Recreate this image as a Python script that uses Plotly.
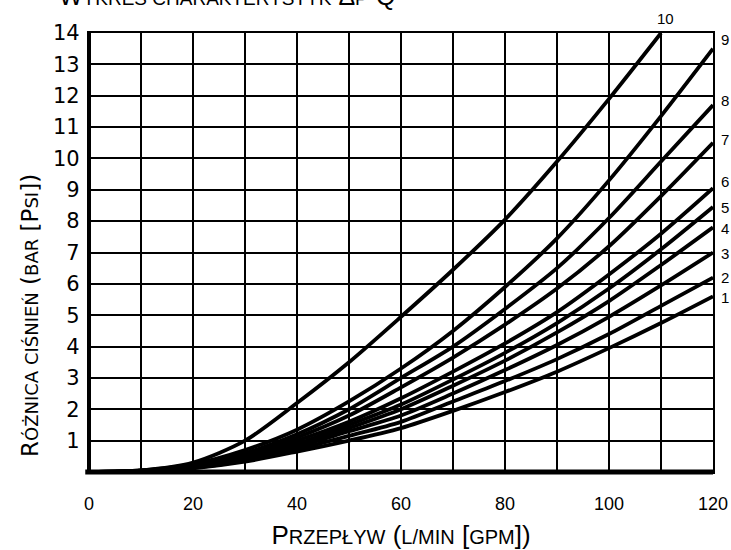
import plotly.graph_objects as go

flow = [0, 10, 20, 30, 40, 50, 60, 70, 80, 90, 100, 110, 120]

curve_1 = [0, 0.02, 0.12, 0.33, 0.65, 1.0, 1.4, 1.95, 2.55, 3.2, 3.95, 4.75, 5.6]
curve_2 = [0, 0.02, 0.13, 0.36, 0.72, 1.15, 1.6, 2.25, 2.9, 3.6, 4.4, 5.3, 6.2]
curve_3 = [0, 0.03, 0.15, 0.4, 0.8, 1.3, 1.8, 2.5, 3.25, 4.05, 4.95, 5.95, 7.0]
curve_4 = [0, 0.03, 0.16, 0.42, 0.85, 1.4, 2.0, 2.75, 3.55, 4.45, 5.45, 6.6, 7.8]
curve_5 = [0, 0.03, 0.17, 0.45, 0.9, 1.5, 2.15, 2.95, 3.8, 4.75, 5.85, 7.1, 8.45]
curve_6 = [0, 0.03, 0.18, 0.5, 1.0, 1.6, 2.35, 3.2, 4.1, 5.1, 6.3, 7.6, 9.05]
curve_7 = [0, 0.04, 0.2, 0.55, 1.1, 1.8, 2.7, 3.65, 4.7, 5.85, 7.2, 8.8, 10.5]
curve_8 = [0, 0.04, 0.22, 0.6, 1.2, 2.0, 3.0, 4.0, 5.2, 6.5, 8.1, 9.9, 11.7]
curve_9 = [0, 0.05, 0.25, 0.7, 1.35, 2.25, 3.3, 4.5, 5.9, 7.45, 9.3, 11.35, 13.5]
curve_10 = [0, 0.05, 0.3, 1.0, 2.2, 3.5, 4.95, 6.45, 8.05, 9.9, 11.9, 14.0]

curves = [curve_1, curve_2, curve_3, curve_4, curve_5,
          curve_6, curve_7, curve_8, curve_9, curve_10]
curve_names = ["1", "2", "3", "4", "5", "6", "7", "8", "9", "10"]
label_y = [5.58, 6.19, 6.98, 7.75, 8.45, 9.28, 10.59, 11.86, 13.78, 14.0]

x_ticks = [0, 10, 20, 30, 40, 50, 60, 70, 80, 90, 100, 110, 120]
x_ticktext = ["0", "", "20", "", "40", "", "60", "", "80", "", "100", "", "120"]
y_ticks = [1, 2, 3, 4, 5, 6, 7, 8, 9, 10, 11, 12, 13, 14]

NARROW = "Liberation Sans Narrow, Liberation Sans"
WIDE = "DejaVu Sans, Liberation Sans"


def sc(big, small, size):
    return big + '<span style="font-size:%dpx">%s</span>' % (size, small)


def sm(text, size):
    return '<span style="font-size:%dpx">%s</span>' % (size, text)


XS = 20
x_title = sc("P", "RZEPŁYW", XS) + " (" + sm("L/MIN", XS) + " [" + sm("GPM", XS) + "])"
YS = 18
y_title = sc("R", "ÓŻNICA CIŚNIEŃ", YS) + " (" + sm("BAR", YS) + " [" + sc("P", "SI", YS) + "])"
TS = 19
top_title = sc("W", "YKRES CHARAKTERYSTYK", TS) + " " + sc("Δ", "P", TS) + "-Q"

fig = go.Figure()
for name, ys in zip(curve_names, curves):
    fig.add_trace(go.Scatter(
        x=flow[:len(ys)], y=ys, mode="lines", name=name,
        line=dict(color="black", width=3.8, shape="spline", smoothing=0.8),
        showlegend=False, hoverinfo="skip", cliponaxis=True))

for name, ys, ly in zip(curve_names, curves, label_y):
    xe = flow[len(ys) - 1]
    is_top = name == "10"
    fig.add_annotation(
        x=xe, y=ly, xref="x", yref="y", text=name, showarrow=False,
        xanchor="center" if is_top else "left",
        xshift=4 if is_top else 6,
        yshift=15 if is_top else 0,
        font=dict(family="Liberation Sans, Arial", size=15, color="black"))

# chart title (partly cut by the top edge, as in the source)
fig.add_annotation(
    x=0.5, y=1.0, xref="paper", yref="paper", text=top_title, showarrow=False,
    yshift=37, xshift=-174, yanchor="middle",
    font=dict(family=NARROW, size=25, color="black"))

# y-axis title
fig.add_annotation(
    x=-0.0946, y=0.3576, xref="paper", yref="paper", text=y_title, showarrow=False,
    textangle=-90, xanchor="center", yanchor="middle",
    font=dict(family=WIDE, size=23, color="black"))

fig.update_layout(
    width=731, height=550,
    margin=dict(l=89, r=18, t=33, b=78),
    paper_bgcolor="white", plot_bgcolor="white",
    xaxis=dict(
        range=[0, 120], tickvals=x_ticks, ticktext=x_ticktext, automargin=False,
        showgrid=True, gridcolor="black", gridwidth=2.2,
        showline=True, linecolor="black", linewidth=2.2, mirror=True,
        zeroline=False, ticks="", ticklabelstandoff=14,
        tickfont=dict(family="Liberation Sans, Arial", size=18, color="black"),
        title=dict(text=x_title, standoff=17,
                   font=dict(family=NARROW, size=26, color="black")),
    ),
    yaxis=dict(
        range=[0, 14], tickvals=y_ticks, automargin=False,
        showgrid=True, gridcolor="black", gridwidth=2.2,
        showline=True, linecolor="black", linewidth=2.2, mirror=True,
        zeroline=False, ticks="", ticklabelstandoff=3,
        tickfont=dict(family=WIDE, size=21, color="black"),
    ),
)

fig.add_shape(type="line", xref="paper", yref="paper", x0=-0.006, x1=1.0, y0=0, y1=0,
              line=dict(color="black", width=5))
fig.add_shape(type="line", xref="paper", yref="paper", x0=0, x1=0, y0=-0.003, y1=1.0,
              line=dict(color="black", width=4))

fig.write_html("out.html", config={"displayModeBar": False},
               post_script="document.body.style.margin='0';document.body.style.overflow='hidden';")
